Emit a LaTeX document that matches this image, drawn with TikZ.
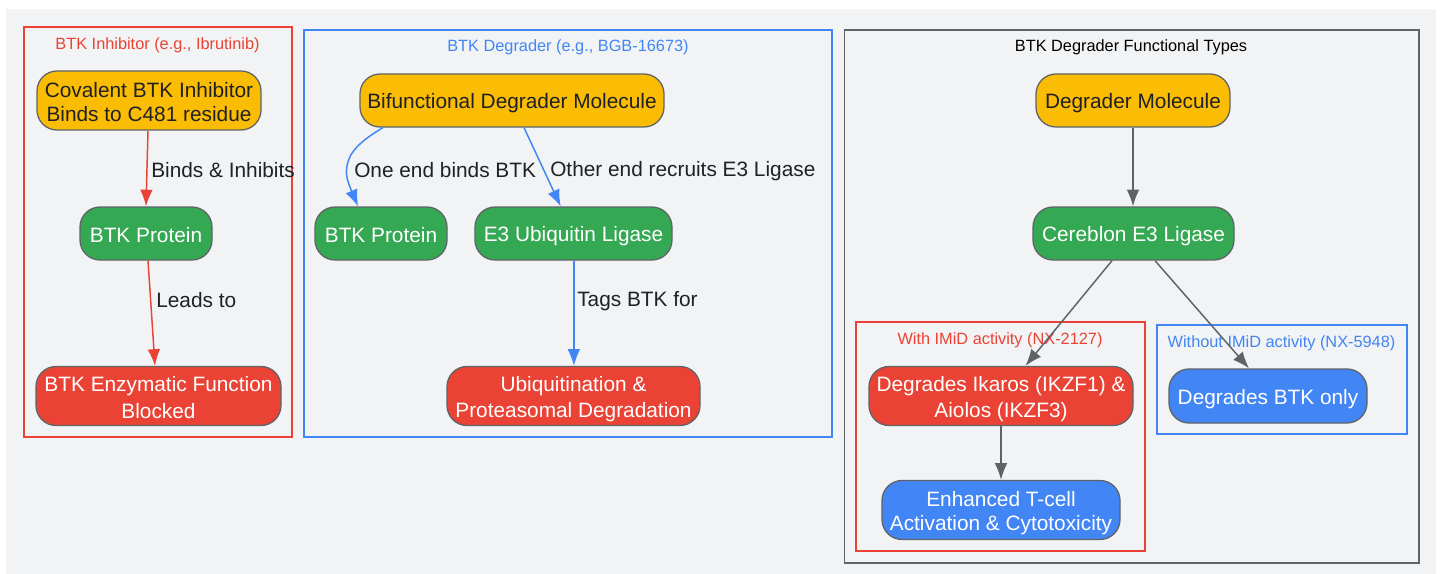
\documentclass[tikz,border=0pt]{standalone}
\usepackage{fontspec}
\setmainfont{Liberation Sans}
\usetikzlibrary{arrows.meta}
\definecolor{bgc}{HTML}{F1F3F4}
\definecolor{yel}{HTML}{FBBC04}
\definecolor{grn}{HTML}{34A853}
\definecolor{rd}{HTML}{EA4335}
\definecolor{blu}{HTML}{4285F4}
\definecolor{ink}{HTML}{202124}
\definecolor{gry}{HTML}{5F6368}
\newcommand{\ls}{\rule[-2.3pt]{0pt}{18pt}}
\newcommand{\ts}{\rule[-2pt]{0pt}{14pt}}
\tikzset{
  box/.style={rounded corners=15pt,draw=gry,line width=0.95pt,inner sep=0pt,align=center,
    font=\fontsize{15.62pt}{18pt}\selectfont},
  yelbox/.style={box,fill=yel,text=ink},
  grnbox/.style={box,fill=grn,text=white},
  redbox/.style={box,fill=rd,text=white},
  blubox/.style={box,fill=blu,text=white},
  cluster/.style={line width=0.85pt},
  ctitle/.style={inner sep=0pt,font=\fontsize{12.24pt}{14pt}\selectfont},
  elabel/.style={inner sep=0pt,anchor=west,text=ink,font=\fontsize{15.62pt}{18pt}\selectfont},
  edge/.style={line width=1.1pt,-{Latex[length=12.5pt,width=9.5pt]}},
}
\newcommand{\nd}[7]{\node[#1,minimum width=#5*0.75pt,minimum height=#6*0.75pt] (#2) at (#3,#4) {#7};}
\begin{document}
\begin{tikzpicture}[x=0.75pt,y=-0.75pt]
\useasboundingbox (0,0) rectangle (1441,574);
\fill[bgc] (6,9) rectangle (1436,574);
% clusters
\draw[cluster,draw=rd] (24,27) rectangle (292,437);
\draw[cluster,draw=blu] (304,30) rectangle (832,437);
\draw[cluster,draw=gry] (844.5,30) rectangle (1419,563);
\draw[cluster,draw=rd] (856,322) rectangle (1145,551);
\draw[cluster,draw=blu] (1157,325) rectangle (1407,434);
\node[ctitle,text=rd] (t1) at (157.5,42.8) {\ts BTK Inhibitor (e.g., Ibrutinib)};
\node[ctitle,text=blu] (t2) at (568,45.3) {\ts BTK Degrader (e.g., BGB-16673)};
\node[ctitle,text=black] (t3) at (1131,45.3) {\ts BTK Degrader Functional Types};
\node[ctitle,text=rd] (t4) at (1000,337.7) {\ts With IMiD activity (NX-2127)};
\node[ctitle,text=blu] (t5) at (1281.5,340.7) {\ts Without IMiD activity (NX-5948)};
% nodes
\nd{yelbox}{cov}{149}{100.5}{224}{59}{\ls Covalent BTK Inhibitor\\\ls Binds to C481 residue}
\nd{grnbox}{pa}{146}{233.5}{132}{53}{\ls BTK Protein}
\nd{redbox}{blk}{158.5}{396}{245}{59}{\ls BTK Enzymatic Function\\\ls Blocked}
\nd{yelbox}{bif}{512}{100.5}{304}{53}{\ls Bifunctional Degrader Molecule}
\nd{grnbox}{pb}{381}{233.5}{132}{53}{\ls BTK Protein}
\nd{grnbox}{e3}{573.5}{233.5}{197}{53}{\ls E3 Ubiquitin Ligase}
\nd{redbox}{ubq}{573.5}{396}{253}{59}{\ls Ubiquitination \&\\\ls Proteasomal Degradation}
\nd{yelbox}{deg}{1133}{100.5}{194}{53}{\ls Degrader Molecule}
\nd{grnbox}{crb}{1133.5}{233.5}{201}{53}{\ls Cereblon E3 Ligase}
\nd{redbox}{ika}{1001}{396}{264}{59}{\ls Degrades Ikaros (IKZF1) \&\\\ls Aiolos (IKZF3)}
\nd{blubox}{enh}{1001}{510}{238}{59}{\ls Enhanced T-cell\\\ls Activation \& Cytotoxicity}
\nd{blubox}{only}{1268}{396}{198}{54}{\ls Degrades BTK only}
% edges
\draw[edge,draw=rd] ([shift={(-1,0)}]cov.south) -- (pa.north);
\draw[edge,draw=rd] ([shift={(2,0)}]pa.south) -- ([shift={(-3.5,0)}]blk.north);
\draw[edge,draw=blu] ([shift={(-129,0)}]bif.south) .. controls +(-17,10) and (353,148) .. (349,159) .. controls (344,172) and (347,180) .. ([shift={(-23,0)}]pb.north);
\draw[edge,draw=blu] ([shift={(12,0)}]bif.south) -- ([shift={(-12.8,0)}]e3.north);
\draw[edge,draw=blu] ([shift={(0.4,0)}]e3.south) -- ([shift={(0.4,0)}]ubq.north);
\draw[edge,draw=gry] (deg.south) -- ([shift={(-0.5,0)}]crb.north);
\draw[edge,draw=gry] ([shift={(-21.5,0)}]crb.south) -- ([shift={(24.5,0)}]ika.north);
\draw[edge,draw=gry] ([shift={(21.5,0)}]crb.south) -- ([shift={(-19,0)}]only.north);
\draw[edge,draw=gry] (ika.south) -- (enh.north);
% labels
\node[elabel] (l1) at (151,168.5) {\ls Binds \& Inhibits};
\node[elabel] (l2) at (156,298.5) {\ls Leads to};
\node[elabel] (l3) at (354,168.5) {\ls One end binds BTK};
\node[elabel] (l4) at (550,168.5) {\ls Other end recruits E3 Ligase};
\node[elabel] (l5) at (577,298.5) {\ls Tags BTK for};
\end{tikzpicture}
\end{document}
